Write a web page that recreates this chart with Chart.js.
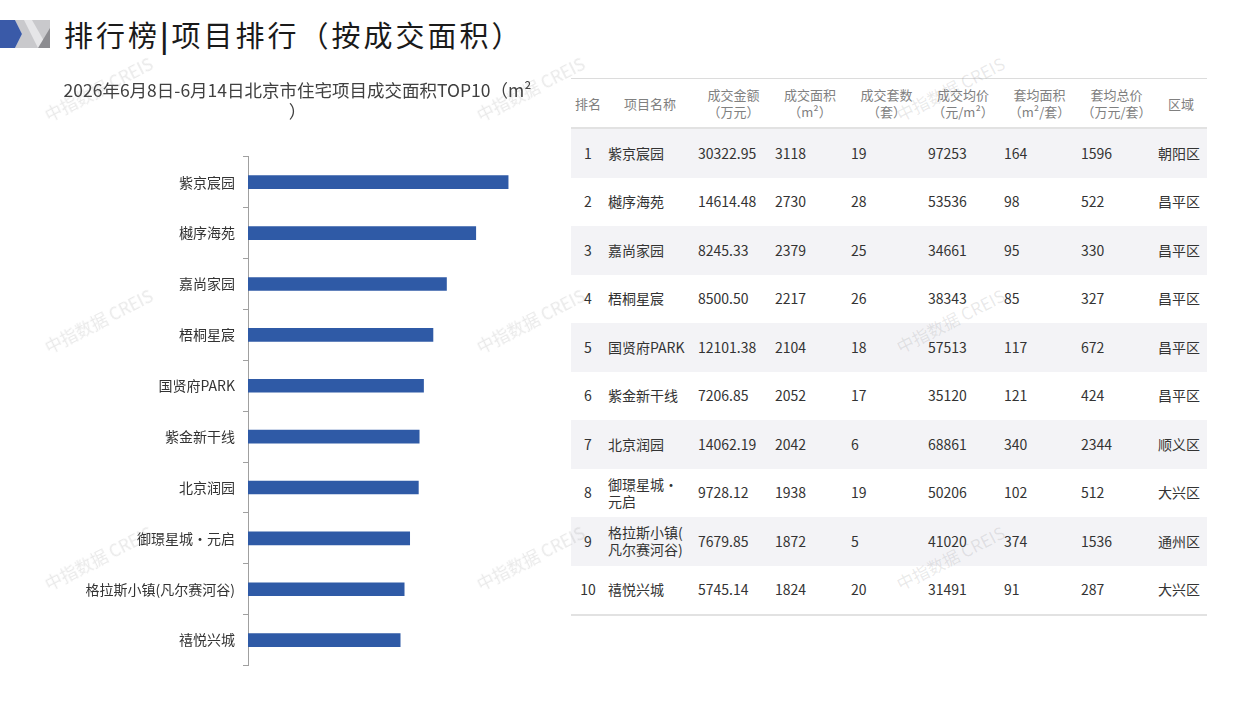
<!DOCTYPE html>
<html lang="zh">
<head>
<meta charset="utf-8">
<script src="https://cdn.jsdelivr.net/npm/chart.js@4.4.1/dist/chart.umd.min.js"></script>
<style>
  body { margin: 0; width: 1257px; height: 706px; background: #fff; position: relative; overflow: hidden;
         font-family: "Noto Sans CJK SC", "Noto Sans", sans-serif; }
  .logo { position: absolute; left: 0; top: 20px; }
  .main-title { position: absolute; left: 64px; top: 13px; font-size: 29px; color: #1a1a1a; letter-spacing: 3px; }
  .chart-box { position: absolute; left: 55px; top: 79px; width: 500px; height: 603px; }
  .wm { position: absolute; font-size: 17px; color: rgba(120,120,120,0.16); transform: rotate(-27deg);
        white-space: nowrap; font-family: "Noto Sans CJK SC", sans-serif; pointer-events: none; z-index: 5; }
  table { position: absolute; left: 571px; top: 78px; width: 636px; border-collapse: collapse; table-layout: fixed; }
  th { height: 48px; font-weight: normal; color: #808080; font-size: 13px; line-height: 17px; text-align: center;
       border-top: 1px solid #dcdcdc; border-bottom: 2px solid #e2e2e2; padding: 0; }
  td { height: 48.5px; font-size: 14px; color: #333; padding: 0 0 0 3px; line-height: 17px; }
  tbody tr:nth-child(odd) td { background: #f3f3f6; }
  tbody tr:last-child td { border-bottom: 2px solid #e2e2e2; }
  td.rk { text-align: center; padding: 0; }
</style>
</head>
<body>
<svg class="logo" width="52" height="30" viewBox="0 0 52 30">
  <polygon points="15,0 50,0 50,28 15,28 22,14" fill="#c9c9cc"/>
  <polygon points="24,0 32,0 48,28 38,28" fill="#e6e6e8"/>
  <polygon points="50,8 50,28 38,28" fill="#8c8c90"/>
  <polygon points="0,0 15,0 22,14 15,28 0,28" fill="#3a5aa8"/>
</svg>
<div class="main-title">排行榜<b>|</b>项目排行（按成交面积）</div>

<div class="chart-box"><canvas id="c"></canvas></div>
<table id="t"></table>

<script>
const projectNames = ['紫京宸园', '樾序海苑', '嘉尚家园', '梧桐星宸', '国贤府PARK', '紫金新干线', '北京润园', '御璟星城·元启', '格拉斯小镇(凡尔赛河谷)', '禧悦兴城'];
const tableNames = ['紫京宸园', '樾序海苑', '嘉尚家园', '梧桐星宸', '国贤府PARK', '紫金新干线', '北京润园', '御璟星城·<br>元启', '格拉斯小镇(<br>凡尔赛河谷)', '禧悦兴城'];
const dealArea = [3118, 2730, 2379, 2217, 2104, 2052, 2042, 1938, 1872, 1824];
const dealAmount = ['30322.95', '14614.48', '8245.33', '8500.50', '12101.38', '7206.85', '14062.19', '9728.12', '7679.85', '5745.14'];
const dealUnits = [19, 28, 25, 26, 18, 17, 6, 19, 5, 20];
const avgPrice = [97253, 53536, 34661, 38343, 57513, 35120, 68861, 50206, 41020, 31491];
const avgArea = [164, 98, 95, 85, 117, 121, 340, 102, 374, 91];
const avgTotal = [1596, 522, 330, 327, 672, 424, 2344, 512, 1536, 287];
const districts = ['朝阳区', '昌平区', '昌平区', '昌平区', '昌平区', '昌平区', '顺义区', '大兴区', '通州区', '大兴区'];
const headers = ['排名', '项目名称', '成交金额<br>（万元）', '成交面积<br>（m²）', '成交套数<br>（套）', '成交均价<br>（元/m²）', '套均面积<br>（m²/套）', '套均总价<br>（万元/套）', '区域'];
const colWidths = [34, 90, 77, 76, 77, 76, 77, 77, 52];
const chartTitle = ['2026年6月8日-6月14日北京市住宅项目成交面积TOP10（m²', '）'];

// table
const t = document.getElementById('t');
let html = '<colgroup>' + colWidths.map(w => `<col style="width:${w}px">`).join('') + '</colgroup>';
html += '<thead><tr>' + headers.map(h => `<th>${h}</th>`).join('') + '</tr></thead><tbody>';
projectNames.forEach((_, i) => {
  html += `<tr><td class="rk">${i + 1}</td><td>${tableNames[i]}</td><td>${dealAmount[i]}</td><td>${dealArea[i]}</td>` +
    `<td>${dealUnits[i]}</td><td>${avgPrice[i]}</td><td>${avgArea[i]}</td><td>${avgTotal[i]}</td><td>${districts[i]}</td></tr>`;
});
t.innerHTML = html + '</tbody>';

// chart
new Chart(document.getElementById('c'), {
  type: 'bar',
  data: {
    labels: projectNames,
    datasets: [{
      data: dealArea,
      backgroundColor: '#2f5aa6',
      barThickness: 13
    }]
  },
  options: {
    indexAxis: 'y',
    responsive: true,
    maintainAspectRatio: false,
    animation: false,
    layout: { padding: { right: 15, top: 0, bottom: 0, left: 0 } },
    plugins: {
      legend: { display: false },
      tooltip: { enabled: false },
      title: {
        display: true,
        text: chartTitle,
        color: '#404040',
        font: { size: 17.5, family: '"Noto Sans CJK SC", sans-serif', weight: 'normal', lineHeight: 1.25 },
        padding: { top: 0, bottom: 34 }
      }
    },
    scales: {
      x: { display: false, min: 0, max: 3500 },
      y: {
        afterFit: s => { s.width = 193; },
        border: { color: '#a0a0a0', width: 1 },
        grid: { drawOnChartArea: false, tickLength: 5, color: '#a0a0a0', offset: true },
        ticks: {
          color: '#333',
          padding: 8,
          font: { size: 14, family: '"Noto Sans CJK SC", sans-serif' }
        }
      }
    }
  }
});

// watermarks
[98, 530, 950].forEach(cx => [88, 320, 557].forEach(cy => {
  const d = document.createElement('div');
  d.className = 'wm';
  d.textContent = '中指数据 CREIS';
  document.body.appendChild(d);
  d.style.left = (cx - d.offsetWidth / 2) + 'px';
  d.style.top = (cy - d.offsetHeight / 2) + 'px';
}));
</script>
</body>
</html>
